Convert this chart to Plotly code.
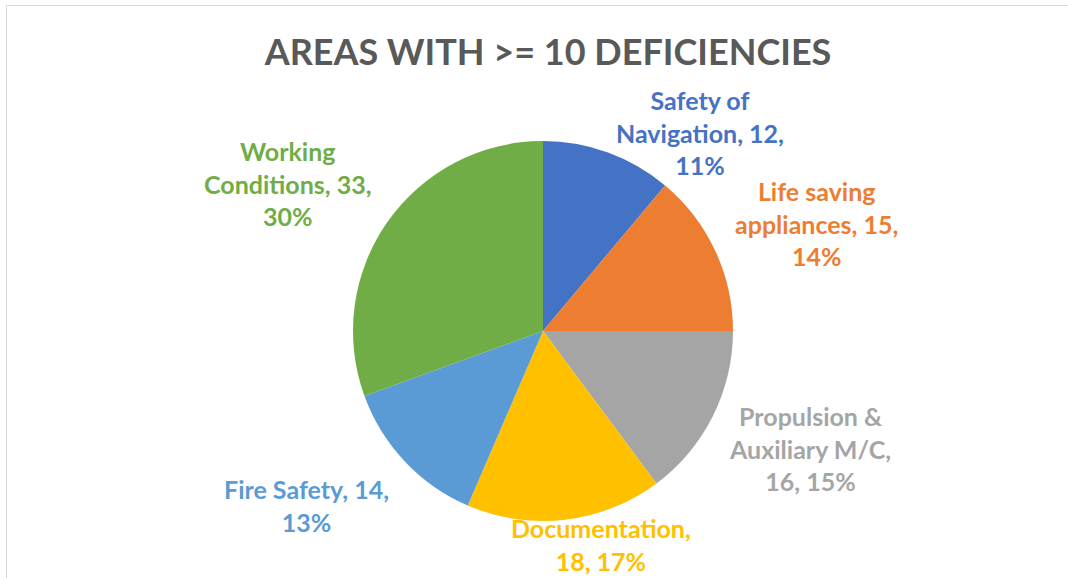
import plotly.graph_objects as go

# Data
areas = ["Safety of Navigation", "Life saving appliances", "Propulsion & Auxiliary M/C",
         "Documentation", "Fire Safety", "Working Conditions"]
deficiencies = [12, 15, 16, 18, 14, 33]
percents = [11, 14, 15, 17, 13, 30]

# How each data label is wrapped (Excel style)
label_fmt = [
    "Safety of<br>Navigation, {v},<br>{p}%",
    "Life saving<br>appliances, {v},<br>{p}%",
    "Propulsion &<br>Auxiliary M/C,<br>{v}, {p}%",
    "Documentation,<br>{v}, {p}%",
    "Fire Safety, {v},<br>{p}%",
    "Working<br>Conditions, {v},<br>{p}%",
]

colors = ["#4472C4", "#ED7D31", "#A5A5A5", "#FFC000", "#5B9BD5", "#70AD47"]

# label centres in pixels (x, y from top)
label_pos = [(700, 133), (816, 224), (810, 448), (601, 544), (306, 505), (288, 183)]

W, H = 1068, 578
cx, cy, r = 543, 331, 190

fig = go.Figure()

fig.add_trace(go.Pie(
    labels=areas,
    values=deficiencies,
    sort=False,
    direction="clockwise",
    rotation=0,
    marker=dict(colors=colors, line=dict(width=0)),
    textinfo="none",
    hoverinfo="label+value+percent",
    showlegend=False,
    domain=dict(x=[(cx - r) / W, (cx + r) / W],
                y=[(H - cy - r) / H, (H - cy + r) / H]),
))

for fmt, v, p, c, (px, py) in zip(label_fmt, deficiencies, percents, colors, label_pos):
    fig.add_annotation(
        x=px / W, y=1 - py / H, xref="paper", yref="paper",
        text=fmt.format(v=v, p=p),
        showarrow=False, align="center",
        xanchor="center", yanchor="middle",
        font=dict(family="Lato", size=25, color=c, weight="bold"),
    )

fig.update_layout(
    width=W, height=H,
    margin=dict(l=0, r=0, t=0, b=0),
    paper_bgcolor="white",
    plot_bgcolor="white",
    title=dict(
        text="AREAS WITH >= 10 DEFICIENCIES",
        x=548 / W, xanchor="center",
        y=1 - 52 / H, yanchor="middle",
        font=dict(family="Lato", size=36, color="#595959", weight="bold"),
    ),
    shapes=[dict(type="rect", xref="paper", yref="paper",
                 x0=6.5 / W, x1=1.02, y0=-0.02, y1=1 - 5.5 / H,
                 line=dict(color="#D9D9D9", width=1))],
)

# drop the browser's default body margin so the figure fills the window
fig.write_html("out.html", config={"displayModeBar": False},
               post_script="document.body.style.margin='0px';")
